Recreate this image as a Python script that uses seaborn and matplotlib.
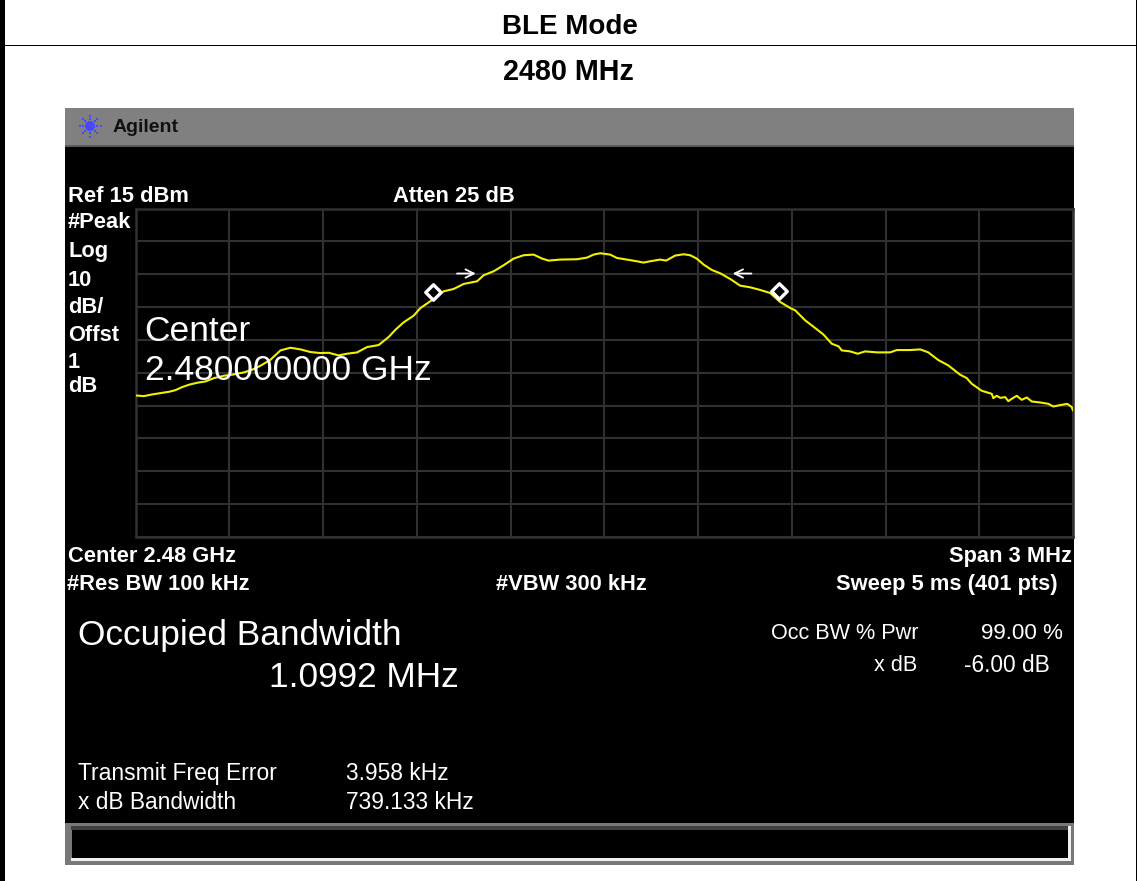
import numpy as np
import pandas as pd
import matplotlib
matplotlib.use("Agg")
import matplotlib.pyplot as plt
from matplotlib.patches import Rectangle
import seaborn as sns

# trace: offset from 2.48 GHz (MHz) and level (dBm)
freq_offset = [-1.500,-1.473,-1.447,-1.420,-1.393,-1.372,-1.351,-1.329,-1.303,-1.276,-1.249,-1.217,-1.186,-1.154,
 -1.127,-1.100,-1.068,-1.036,-1.004,-0.972,-0.940,-0.908,-0.882,-0.850,-0.823,-0.791,-0.759,-0.722,-0.690,-0.668,
 -0.642,-0.610,-0.588,-0.557,-0.514,-0.482,-0.450,-0.407,-0.386,-0.354,-0.322,-0.290,-0.258,-0.226,-0.199,-0.178,
 -0.141,-0.087,-0.055,-0.034,-0.013,0.019,0.040,0.072,0.104,0.126,0.147,0.179,0.198,0.227,0.254,0.275,0.296,0.318,
 0.344,0.371,0.403,0.435,0.467,0.499,0.531,0.563,0.595,0.611,0.643,0.675,0.701,0.728,0.750,0.760,0.787,0.811,0.835,
 0.872,0.915,0.936,0.979,1.011,1.037,1.069,1.101,1.139,1.160,1.176,1.208,1.240,1.245,1.256,1.267,1.283,1.293,1.304,
 1.320,1.336,1.352,1.368,1.395,1.421,1.437,1.458,1.482,1.496,1.500]
level_dbm = [-41.92,-42.12,-41.61,-41.20,-40.80,-40.29,-39.38,-38.66,-38.05,-37.65,-36.63,-35.92,-35.51,-34.90,
 -34.09,-32.87,-31.04,-28.19,-27.38,-27.89,-28.70,-29.01,-28.91,-29.72,-29.21,-28.81,-27.18,-26.57,-24.13,-21.89,
 -19.66,-17.63,-15.29,-13.26,-10.21,-9.50,-7.97,-7.16,-5.33,-4.11,-2.28,-0.25,0.77,0.97,-0.25,-0.86,
 -0.55,-0.45,0.06,0.97,1.38,0.97,-0.04,-0.55,-1.06,-1.47,-1.06,-0.55,-0.86,0.67,1.07,0.77,-0.25,-2.08,
 -3.70,-4.72,-6.45,-8.48,-8.99,-9.80,-10.72,-13.46,-15.29,-16.00,-19.05,-21.39,-23.32,-26.16,-26.98,-28.20,-28.50,-29.21,-28.50,
 -28.80,-28.80,-28.09,-28.09,-27.89,-28.80,-31.14,-32.77,-35.61,-36.63,-38.36,-40.49,-41.41,-42.73,-42.02,-42.63,-42.42,-43.64,-42.93,
 -42.02,-43.24,-42.53,-43.75,-44.05,-44.46,-45.27,-44.86,-44.46,-45.47,-46.49]
marker_freq = [-0.547, 0.560]
marker_level = [-10.3, -10.0]
arrow_freq = [-0.441, 0.441]
arrow_level = [-4.8, -4.8]
ref_level = 15
db_per_div = 10
span_mhz = 3

W, H = 1137, 881
sns.set_theme(style="dark")
plt.rcParams["font.family"] = ["Liberation Sans", "DejaVu Sans"]

fig = plt.figure(figsize=(W / 100, H / 100), dpi=100, facecolor="white")

def rect(x0, y0, x1, y1, color, z=0):
    fig.add_artist(Rectangle((x0 / W, 1 - y1 / H), (x1 - x0) / W, (y1 - y0) / H,
                             transform=fig.transFigure, facecolor=color, edgecolor="none", zorder=z))

def txt(x, y, s, size, weight="normal", color="white", ha="left", z=15):
    fig.text(x / W, 1 - y / H, s, fontsize=size, fontweight=weight, color=color, ha=ha, va="center_baseline", zorder=z)

# page furniture
rect(0, 0, 5, H, "black", -5)
rect(1136, 0, W, H, "black", -5)
rect(5, 44.7, 1136, 46, "black", -5)
txt(570, 24, "BLE Mode", 20, "bold", "black", "center")
txt(568, 69, "2480 MHz", 20.7, "bold", "black", "center")

# instrument screen
rect(65, 108, 1074, 865, "black", -5)
rect(65, 108, 1074, 146, "#808080", -4)
rect(65, 145, 1074, 146.5, "#5a5a5a", -4)
rect(65, 823, 1074, 865, "#787878", -4)
rect(71, 826, 1071, 829.5, "#404040", -3)
rect(71, 858, 1071, 861, "#f0f0f0", -3)
rect(1068, 826, 1071, 861, "#f0f0f0", -3)
rect(72, 829.5, 1068, 858, "black", -2)
txt(113, 126, "Agilent", 14, "bold", "#101010")

# logo
logo = fig.add_axes([72 / W, 1 - 140 / H, 36 / W, 28 / H], zorder=10)
logo.set_axis_off()
logo.set_xlim(-18, 18)
logo.set_ylim(-14, 14)
angles = np.deg2rad(np.arange(0, 360, 45))
for r, s in [(3, 5), (7, 2.5), (10.5, 2.5)]:
    logo.scatter(r * np.cos(angles), r * np.sin(angles), s=s, color="#4848ff", linewidths=0, marker="s")

# spectrum plot
ax = fig.add_axes([135.5 / W, 1 - 537 / H, 937.5 / W, 328.5 / H], facecolor="black", zorder=1)
df = pd.DataFrame({"freq": freq_offset, "level": level_dbm})
ax.set_xticks(np.linspace(-span_mhz / 2, span_mhz / 2, 11))
ax.set_yticks(np.arange(ref_level - 10 * db_per_div, ref_level + 1, db_per_div))
ax.grid(True, color="#303030", linewidth=1.5)
ax.set_axisbelow(True)
ax.tick_params(left=False, bottom=False, labelleft=False, labelbottom=False)
for sp in ax.spines.values():
    sp.set_color("#303030")
    sp.set_linewidth(1.8)
sns.lineplot(data=df, x="freq", y="level", ax=ax, color="#f2f200", linewidth=1.5, errorbar=None, estimator=None, sort=False, zorder=3)
sns.scatterplot(x=marker_freq, y=marker_level, ax=ax, marker="D", s=62, facecolor="black", edgecolor="white", linewidth=2.4, zorder=5)
ax.annotate("", xy=(arrow_freq[0] + 0.03, arrow_level[0]), xytext=(arrow_freq[0] - 0.03, arrow_level[0]),
            arrowprops=dict(arrowstyle="->", color="white", lw=1.3, mutation_scale=15, shrinkA=0, shrinkB=0), zorder=5)
ax.annotate("", xy=(arrow_freq[1] - 0.03, arrow_level[1]), xytext=(arrow_freq[1] + 0.03, arrow_level[1]),
            arrowprops=dict(arrowstyle="->", color="white", lw=1.3, mutation_scale=15, shrinkA=0, shrinkB=0), zorder=5)
ax.set_xlim(-span_mhz / 2, span_mhz / 2)
ax.set_ylim(ref_level - 10 * db_per_div, ref_level)
ax.set_xlabel("")
ax.set_ylabel("")

# screen annotations
bold_labels = [(68, 194, "Ref 15 dBm"), (393, 194, "Atten 25 dB"), (68, 220, "#Peak"), (68, 249, "Log"),
               (68, 278, "10"), (68, 305, "dB/"), (68, 333, "Offst"), (68, 360, "1"), (68, 384, "dB"),
               (68, 554, "Center 2.48 GHz"), (67, 582, "#Res BW 100 kHz"), (496, 582, "#VBW 300 kHz"),
               (836, 582, "Sweep 5 ms (401 pts)")]
for x, y, s in bold_labels:
    txt(x, y, s, 15.75, "bold")
txt(1072, 554, "Span 3 MHz", 15.75, "bold", ha="right")

txt(144.5, 328, "Center", 25.5)
txt(145, 367, "2.480000000 GHz", 25.5)
txt(78, 632, "Occupied Bandwidth", 25.4)
txt(269, 674, "1.0992 MHz", 25.4)
for x, y, s, fs in [(771, 631, "Occ BW % Pwr", 15.6), (981, 631, "99.00 %", 16.1), (874, 663, "x dB", 15.6),
                    (964, 663, "-6.00 dB", 16.4), (78, 771, "Transmit Freq Error", 16.5),
                    (78, 800, "x dB Bandwidth", 16.4), (346, 771, "3.958 kHz", 16.4), (346, 800, "739.133 kHz", 16.4)]:
    txt(x, y, s, fs)

fig.savefig("out.png", dpi=100, facecolor="white")
